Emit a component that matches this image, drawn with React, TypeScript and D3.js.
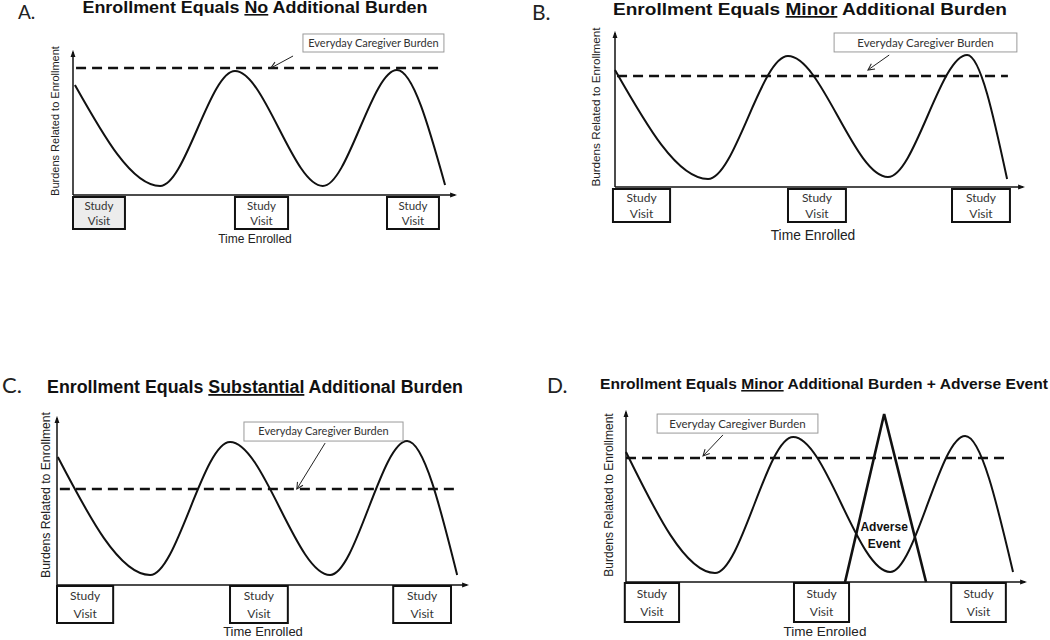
import * as d3 from "d3";

type Pt = [number, number];

// time (0-100) vs burden (0-100)
const panelLetters = ["A.", "B.", "C.", "D."];
const titleLead = "Enrollment Equals ";
const titleEmphasis = ["No", "Minor", "Substantial", "Minor"];
const titleTail = [
  " Additional Burden",
  " Additional Burden",
  " Additional Burden",
  " Additional Burden + Adverse Event",
];

const burdenA: Pt[] = [[0.5, 77], [22.8, 6.3], [42.4, 86.7], [65.4, 6.3], [84.8, 87.4], [97.4, 7]];
const burdenB: Pt[] = [[0, 76], [22.8, 5.2], [42.4, 85], [66.9, 6.5], [86.3, 85.7], [96.1, 5.2]];
const burdenC: Pt[] = [[0.2, 76.6], [22.7, 6], [42.2, 85.6], [66.6, 6], [85.4, 86.2], [97.6, 6]];
const burdenD: Pt[] = [[0, 76.5], [22.3, 5.3], [41.9, 85.3], [66.2, 5.9], [85, 85.9], [97, 5.9]];
const burdens = [burdenA, burdenB, burdenC, burdenD];

const caregiverLevel = [88.8, 72.1, 57.5, 72.9];
const caregiverSpan: Pt[] = [[0.8, 96.3], [0.5, 96.3], [0.7, 97.8], [0, 95.5]];

const visitsA: Pt[] = [[0, 13.6], [42.4, 56.3], [82.2, 95.8]];
const visitsB: Pt[] = [[-0.5, 13.5], [42.4, 56.6], [82.6, 96.8]];
const visitsC: Pt[] = [[0, 13.7], [42.2, 56.3], [82, 96.1]];
const visitsD: Pt[] = [[-0.3, 13.3], [42.1, 55.9], [81.5, 95.2]];
const visits = [visitsA, visitsB, visitsC, visitsD];

const adverseEvent: Pt[] = [[54.9, 0], [64.7, 98.8], [75.2, 0]];

// label box: [t0, t1, bTop, bBottom]; arrow: [from, to]
const labelBoxes = [
  [60.2, 97.1, 112.6, 100],
  [53.7, 98.5, 100, 87.7],
  [45.6, 84.4, 97.6, 86.2],
  [7.8, 48.1, 98.8, 87.6],
];
const labelArrows: Pt[][] = [
  [[57.6, 97.2], [51.8, 88.8]],
  [[67.2, 85.7], [62, 76]],
  [[65.4, 85], [58.5, 57.5]],
  [[24.3, 86.5], [19.3, 74.1]],
];

const yAxisLabel = "Burdens Related to Enrollment";
const xAxisLabel = "Time Enrolled";
const visitLabel = ["Study", "Visit"];
const caregiverLabel = "Everyday Caregiver Burden";
const adverseLabel = ["Adverse", "Event"];

const frames = [
  {
    left: 73, right: 455, bottom: 195, top: 52,
    letter: { x: 18, y: 19, size: 19 },
    title: { x: 255, y: 13, size: 16, len: 345 },
    ylab: { x: 59, y: 121, size: 11 },
    xlab: { x: 255, y: 243, size: 12 },
    box: { gap: 2, h: 32 }, visitSize: 11.5, capSize: 11,
  },
  {
    left: 615, right: 1023, bottom: 187, top: 33,
    letter: { x: 532, y: 20, size: 21 },
    title: { x: 810, y: 15, size: 17, len: 394 },
    ylab: { x: 600, y: 107, size: 11.7 },
    xlab: { x: 813, y: 240, size: 13.8 },
    box: { gap: 2, h: 33 }, visitSize: 12, capSize: 11.5,
  },
  {
    left: 57, right: 467, bottom: 585, top: 418,
    letter: { x: 2, y: 393, size: 22 },
    title: { x: 255, y: 393, size: 18, len: 416 },
    ylab: { x: 50, y: 495, size: 12.2 },
    xlab: { x: 263, y: 636, size: 13 },
    box: { gap: 1, h: 37 }, visitSize: 12, capSize: 11,
  },
  {
    left: 626, right: 1025, bottom: 582, top: 412,
    letter: { x: 547, y: 393, size: 21 },
    title: { x: 824, y: 389, size: 15.5, len: 448 },
    ylab: { x: 613, y: 495, size: 12 },
    xlab: { x: 825, y: 636, size: 13.5 },
    box: { gap: 1, h: 39 }, visitSize: 12, capSize: 11.5,
  },
];

const ink = "#111";
const sans = "'Liberation Sans', Arial, sans-serif";
const soft = "Lato, 'Open Sans', sans-serif";

function Panel({ i }: { i: number }) {
  const f = frames[i];
  const x = d3.scaleLinear().domain([0, 100]).range([f.left, f.right]);
  const y = d3.scaleLinear().domain([0, 100]).range([f.bottom, f.top]);
  const line = d3
    .line<Pt>()
    .x((d) => x(d[0]))
    .y((d) => y(d[1]))
    .curve(d3.curveMonotoneX);
  const straight = d3
    .line<Pt>()
    .x((d) => x(d[0]))
    .y((d) => y(d[1]));

  const lb = labelBoxes[i];
  const arrow = labelArrows[i];
  const level = caregiverLevel[i];
  const span = caregiverSpan[i];

  return (
    <g>
      <text
        x={f.letter.x}
        y={f.letter.y}
        fontFamily={soft}
        fontSize={f.letter.size}
        fill="#222"
      >
        {panelLetters[i]}
      </text>
      <text
        x={f.title.x}
        y={f.title.y}
        textAnchor="middle"
        fontFamily={sans}
        fontWeight="bold"
        fontSize={f.title.size}
        textLength={f.title.len}
        lengthAdjust="spacingAndGlyphs"
        fill={ink}
      >
        {titleLead}
        <tspan textDecoration="underline">{titleEmphasis[i]}</tspan>
        {titleTail[i]}
      </text>

      {/* axes */}
      <line
        x1={x(0)} y1={y(0)} x2={x(0)} y2={y(100)}
        stroke={ink} strokeWidth={1.5} markerEnd="url(#axisHead)"
      />
      <line
        x1={x(0)} y1={y(0)} x2={x(100)} y2={y(0)}
        stroke={ink} strokeWidth={1.5} markerEnd="url(#axisHead)"
      />
      <text
        transform={`translate(${f.ylab.x},${f.ylab.y}) rotate(-90)`}
        textAnchor="middle"
        fontFamily={sans}
        fontSize={f.ylab.size}
        fill="#222"
      >
        {yAxisLabel}
      </text>
      <text
        x={f.xlab.x}
        y={f.xlab.y}
        textAnchor="middle"
        fontFamily={sans}
        fontSize={f.xlab.size}
        fill="#222"
      >
        {xAxisLabel}
      </text>

      {/* everyday caregiver burden */}
      <path
        d={straight([[span[0], level], [span[1], level]]) ?? ""}
        stroke={ink}
        strokeWidth={2.5}
        strokeDasharray="10 6"
        fill="none"
      />

      {/* burden curve */}
      <path d={line(burdens[i]) ?? ""} stroke={ink} strokeWidth={2} fill="none" />

      {i === 3 && (
        <g>
          <path
            d={straight(adverseEvent) ?? ""}
            stroke={ink}
            strokeWidth={2.6}
            fill="none"
            strokeLinejoin="miter"
          />
          {adverseLabel.map((s, k) => (
            <text
              key={s}
              x={x(adverseEvent[1][0])}
              y={y(30) + k * 17}
              textAnchor="middle"
              fontFamily={sans}
              fontWeight="bold"
              fontSize={12}
              fill={ink}
            >
              {s}
            </text>
          ))}
        </g>
      )}

      {/* label box + arrow */}
      <rect
        x={x(lb[0])}
        y={y(lb[2])}
        width={x(lb[1]) - x(lb[0])}
        height={y(lb[3]) - y(lb[2])}
        fill="#fff"
        stroke="#9a9a9a"
        strokeWidth={1}
      />
      <text
        x={(x(lb[0]) + x(lb[1])) / 2}
        y={(y(lb[2]) + y(lb[3])) / 2 + f.capSize * 0.36}
        textAnchor="middle"
        fontFamily={soft}
        fontSize={f.capSize}
        fill="#333"
      >
        {caregiverLabel}
      </text>
      <path
        d={straight(arrow) ?? ""}
        stroke="#222"
        strokeWidth={1}
        fill="none"
        markerEnd="url(#openHead)"
      />

      {/* study visits */}
      {visits[i].map((v, k) => {
        const top = f.bottom + f.box.gap;
        const cx = (x(v[0]) + x(v[1])) / 2;
        return (
          <g key={k}>
            <rect
              x={x(v[0])}
              y={top}
              width={x(v[1]) - x(v[0])}
              height={f.box.h}
              fill={i === 0 && k === 0 ? "#ececec" : "#fff"}
              stroke={ink}
              strokeWidth={2}
            />
            {visitLabel.map((s, j) => (
              <text
                key={s}
                x={cx}
                y={top + f.box.h * (j === 0 ? 0.27 : 0.74) + f.visitSize * 0.36}
                textAnchor="middle"
                fontFamily={soft}
                fontSize={f.visitSize}
                fill="#333"
              >
                {s}
              </text>
            ))}
          </g>
        );
      })}
    </g>
  );
}

export default function App() {
  return (
    <svg
      width={1050}
      height={640}
      style={{ position: "absolute", left: 0, top: 0, background: "#fff" }}
    >
      <defs>
        <marker
          id="axisHead"
          viewBox="0 0 10 10"
          refX={7}
          refY={5}
          markerUnits="userSpaceOnUse"
          markerWidth={7}
          markerHeight={7}
          orient="auto"
        >
          <path d="M0,1.5 L10,5 L0,8.5 z" fill={ink} />
        </marker>
        <marker
          id="openHead"
          viewBox="0 0 10 10"
          refX={9}
          refY={5}
          markerUnits="userSpaceOnUse"
          markerWidth={8}
          markerHeight={8}
          orient="auto"
        >
          <path d="M1,1 L9,5 L1,9" fill="none" stroke="#222" strokeWidth={1.3} />
        </marker>
      </defs>
      <rect width={1050} height={640} fill="#fff" />
      {frames.map((_, i) => (
        <Panel key={i} i={i} />
      ))}
    </svg>
  );
}
